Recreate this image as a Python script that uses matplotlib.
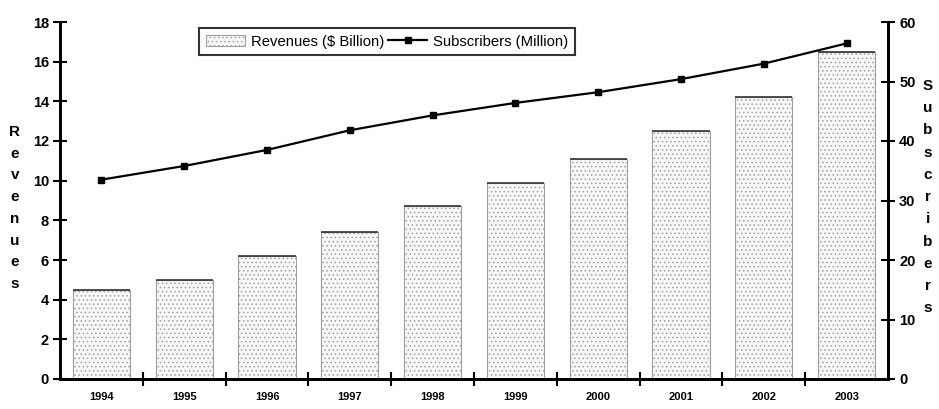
import matplotlib.pyplot as plt
import numpy as np

years = ['1994', '1995', '1996', '1997', '1998', '1999', '2000', '2001', '2002', '2003']
revenues = [4.5, 5.0, 6.2, 7.4, 8.7, 9.9, 11.1, 12.5, 14.2, 16.5]
subscribers = [33.5, 35.8, 38.5, 41.8, 44.3, 46.4, 48.2, 50.4, 53.0, 56.4]

plt.rcParams['font.family'] = ['Liberation Sans', 'DejaVu Sans']
plt.rcParams['hatch.color'] = '#a8a8a8'
plt.rcParams['hatch.linewidth'] = 0.6

fig = plt.figure(figsize=(9.39, 4.09), dpi=100)
ax = fig.add_axes([60 / 939, 1 - 379 / 409, 828 / 939, 357 / 409])
ax2 = ax.twinx()

x = np.arange(len(years))
width = 0.69
bars = ax.bar(x, revenues, width, facecolor='#f7f7f7', edgecolor='#a0a0a0',
              hatch='....', linewidth=0.8, label='Revenues ($ Billion)')
ax.hlines(revenues, x - width / 2, x + width / 2, color='#333333', linewidth=1.2)

line, = ax2.plot(x, subscribers, color='black', linewidth=1.6, marker='s',
                 markersize=5, label='Subscribers (Million)')

ax.set_xlim(-0.5, len(years) - 0.5)
ax.set_ylim(0, 18)
ax2.set_ylim(0, 60)
ax.set_yticks(np.arange(0, 19, 2))
ax2.set_yticks(np.arange(0, 61, 10))

ax.set_xticks(x)
ax.set_xticklabels(years, fontsize=8, fontweight='bold')
ax.set_xticks(np.arange(0.5, len(years) - 1, 1), minor=True)
ax.tick_params(axis='x', which='major', length=0, pad=9)
ax.tick_params(axis='x', which='minor', direction='inout', length=10, width=1.5)

ax.tick_params(axis='y', direction='inout', length=10, width=1.5, pad=3, labelsize=10.5)
ax2.tick_params(axis='y', direction='inout', length=10, width=1.5, pad=3, labelsize=10.5)
for lbl in ax.get_yticklabels() + ax2.get_yticklabels():
    lbl.set_fontweight('bold')

for a in (ax, ax2):
    a.spines['top'].set_visible(False)
    for s in ('left', 'right', 'bottom'):
        a.spines[s].set_linewidth(2)

fig.text(15 / 939, 1 - 208 / 409, '\n'.join('Revenues'), ha='center', va='center',
         fontsize=11, fontweight='bold', linespacing=1.7)
fig.text(928 / 939, 1 - 197 / 409, '\n'.join('Subscribers'), ha='center', va='center',
         fontsize=11, fontweight='bold', linespacing=1.75)

leg = ax.legend([bars, line], ['Revenues ($ Billion)', 'Subscribers (Million)'],
                loc='center', bbox_to_anchor=(0.395, 0.945), ncol=2, fontsize=10.7,
                frameon=True, fancybox=False, edgecolor='black', handlelength=2.6,
                handletextpad=0.4, columnspacing=0.3, borderpad=0.45)
leg.get_frame().set_linewidth(1.5)

fig.savefig('out.png', dpi=100)
